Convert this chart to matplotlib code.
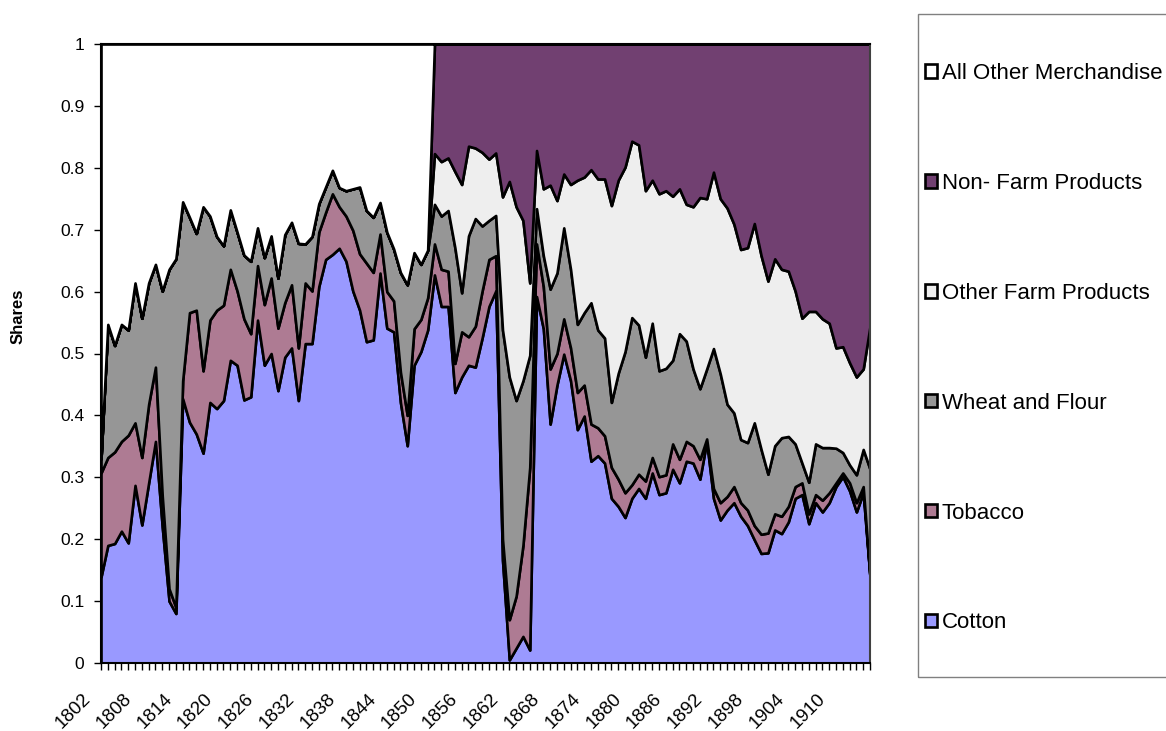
import numpy as np
import matplotlib.pyplot as plt
from matplotlib.patches import Rectangle
from matplotlib.transforms import ScaledTranslation

plt.rcParams['font.family'] = ['Liberation Sans', 'DejaVu Sans']

years = list(range(1802, 1916))

# export shares by commodity group, one value per year
cotton = [
    0.139, 0.190, 0.193, 0.213, 0.194, 0.287, 0.223, 0.291, 0.358, 0.220,
    0.100, 0.080, 0.427, 0.389, 0.370, 0.339, 0.421, 0.411, 0.424, 0.489,
    0.481, 0.425, 0.430, 0.554, 0.481, 0.500, 0.440, 0.494, 0.509, 0.424,
    0.516, 0.516, 0.608, 0.652, 0.660, 0.670, 0.649, 0.601, 0.570, 0.519,
    0.522, 0.630, 0.541, 0.535, 0.421, 0.351, 0.481, 0.503, 0.538, 0.627,
    0.576, 0.576, 0.437, 0.462, 0.481, 0.478, 0.525, 0.576, 0.601, 0.166,
    0.005, 0.024, 0.043, 0.021, 0.592, 0.540, 0.386, 0.449, 0.499, 0.456,
    0.377, 0.399, 0.326, 0.335, 0.323, 0.266, 0.253, 0.235, 0.266, 0.282,
    0.266, 0.307, 0.272, 0.275, 0.313, 0.291, 0.326, 0.323, 0.297, 0.358,
    0.266, 0.231, 0.247, 0.259, 0.237, 0.222, 0.199, 0.177, 0.178, 0.215,
    0.209, 0.228, 0.266, 0.272, 0.225, 0.259, 0.244, 0.259, 0.285, 0.301,
    0.278, 0.244, 0.275, 0.139,
]
tobacco = [
    0.168, 0.142, 0.148, 0.145, 0.174, 0.101, 0.109, 0.127, 0.120, 0.050,
    0.020, 0.010, 0.029, 0.177, 0.200, 0.133, 0.133, 0.159, 0.154, 0.147,
    0.120, 0.131, 0.102, 0.088, 0.098, 0.122, 0.101, 0.088, 0.102, 0.085,
    0.098, 0.085, 0.088, 0.076, 0.098, 0.067, 0.073, 0.098, 0.091, 0.127,
    0.109, 0.063, 0.059, 0.050, 0.049, 0.049, 0.059, 0.052, 0.052, 0.050,
    0.060, 0.057, 0.047, 0.073, 0.046, 0.066, 0.076, 0.076, 0.057, 0.034,
    0.065, 0.084, 0.147, 0.295, 0.085, 0.068, 0.089, 0.051, 0.057, 0.053,
    0.060, 0.050, 0.060, 0.045, 0.044, 0.050, 0.044, 0.040, 0.022, 0.023,
    0.028, 0.025, 0.029, 0.029, 0.041, 0.038, 0.032, 0.028, 0.032, 0.004,
    0.016, 0.028, 0.022, 0.026, 0.022, 0.025, 0.023, 0.031, 0.032, 0.026,
    0.028, 0.025, 0.019, 0.019, 0.016, 0.013, 0.019, 0.016, 0.006, 0.006,
    0.013, 0.015, 0.010, 0.000,
]
wheat_flour = [
    0.023, 0.215, 0.172, 0.189, 0.170, 0.226, 0.225, 0.196, 0.166, 0.331,
    0.516, 0.563, 0.289, 0.154, 0.124, 0.265, 0.168, 0.119, 0.096, 0.096,
    0.095, 0.103, 0.117, 0.061, 0.076, 0.068, 0.081, 0.110, 0.101, 0.169,
    0.063, 0.088, 0.046, 0.041, 0.038, 0.031, 0.041, 0.067, 0.108, 0.085,
    0.089, 0.051, 0.096, 0.084, 0.161, 0.211, 0.123, 0.089, 0.077, 0.064,
    0.086, 0.098, 0.187, 0.063, 0.163, 0.174, 0.105, 0.063, 0.065, 0.338,
    0.392, 0.316, 0.266, 0.181, 0.057, 0.050, 0.129, 0.130, 0.147, 0.127,
    0.110, 0.117, 0.196, 0.158, 0.158, 0.105, 0.171, 0.228, 0.270, 0.241,
    0.200, 0.217, 0.171, 0.172, 0.135, 0.203, 0.162, 0.124, 0.114, 0.113,
    0.226, 0.208, 0.149, 0.119, 0.102, 0.109, 0.166, 0.137, 0.095, 0.110,
    0.127, 0.113, 0.069, 0.032, 0.051, 0.082, 0.085, 0.073, 0.056, 0.033,
    0.029, 0.045, 0.060, 0.174,
]
# other farm / non-farm split only exists from 1851 on
other_farm = [0.0] * 49 + [
    0.082, 0.088, 0.085, 0.123, 0.175, 0.145, 0.114, 0.119, 0.099, 0.101,
    0.215, 0.316, 0.313, 0.259, 0.117, 0.094, 0.108, 0.168, 0.117, 0.087,
    0.137, 0.233, 0.219, 0.215, 0.244, 0.257, 0.318, 0.312, 0.298, 0.285,
    0.291, 0.269, 0.231, 0.286, 0.287, 0.265, 0.234, 0.221, 0.262, 0.309,
    0.275, 0.285, 0.283, 0.317, 0.305, 0.307, 0.315, 0.322, 0.313, 0.312,
    0.302, 0.272, 0.267, 0.247, 0.234, 0.276, 0.214, 0.208, 0.201, 0.162,
    0.171, 0.165, 0.158, 0.130, 0.231,
]
non_farm = [0.0] * 49 + [
    0.177, 0.190, 0.184, 0.206, 0.227, 0.165, 0.168, 0.175, 0.186, 0.176,
    0.247, 0.222, 0.263, 0.285, 0.386, 0.172, 0.234, 0.228, 0.253, 0.210,
    0.227, 0.220, 0.215, 0.203, 0.218, 0.218, 0.261, 0.220, 0.199, 0.157,
    0.163, 0.237, 0.220, 0.242, 0.237, 0.246, 0.234, 0.259, 0.263, 0.248,
    0.250, 0.207, 0.250, 0.265, 0.291, 0.332, 0.329, 0.290, 0.342, 0.383,
    0.347, 0.364, 0.367, 0.399, 0.443, 0.432, 0.432, 0.444, 0.451, 0.491,
    0.489, 0.515, 0.538, 0.525, 0.456,
]
all_other = [
    0.670, 0.453, 0.487, 0.453, 0.462, 0.386, 0.443, 0.386, 0.356, 0.399,
    0.364, 0.347, 0.255, 0.280, 0.306, 0.263, 0.278, 0.311, 0.326, 0.268,
    0.304, 0.341, 0.351, 0.297, 0.345, 0.310, 0.378, 0.308, 0.288, 0.322,
    0.323, 0.311, 0.258, 0.231, 0.204, 0.232, 0.237, 0.234, 0.231, 0.269,
    0.280, 0.256, 0.304, 0.331, 0.369, 0.389, 0.337, 0.356, 0.333,
] + [0.0] * 65

labels = ['Cotton', 'Tobacco', 'Wheat and Flour', 'Other Farm Products',
          'Non- Farm Products', 'All Other Merchandise']
colors = ['#9999ff', '#ae7b93', '#969696', '#eeeeee', '#714071', '#ffffff']

fig = plt.figure(figsize=(11.66, 7.31), dpi=100)
ax = fig.add_axes([101/1166, 1 - 663/731, 769/1166, 619/731])

polys = ax.stackplot(years, cotton, tobacco, wheat_flour, other_farm,
                     non_farm, all_other, colors=colors, labels=labels,
                     edgecolor='black', linewidth=1.9)

ax.set_xlim(1802, 1915)
ax.set_ylim(0, 1)

yt = np.arange(0, 1.01, 0.1)
ax.set_yticks(yt)
ax.set_yticklabels([f'{v:g}' for v in yt], fontsize=12.5)
ax.set_xticks(years)
ax.set_xticklabels([str(y) if (y - 1802) % 6 == 0 else '' for y in years],
                   rotation=45, ha='right', va='baseline',
                   rotation_mode='anchor', fontsize=13.5)
ax.tick_params(axis='both', direction='out', length=5, width=1, color='black')
ax.tick_params(axis='x', pad=21)
ax.tick_params(axis='y', pad=7)
# year labels sit a little left of their ticks
shift = ScaledTranslation(-0.10, 0, fig.dpi_scale_trans)
for lbl in ax.get_xticklabels():
    lbl.set_transform(lbl.get_transform() + shift)

ax.set_ylabel('Shares', fontsize=12, fontweight='bold')
ax.yaxis.set_label_coords(-0.0975, 0.56)

for side in ['left', 'bottom', 'top']:
    ax.spines[side].set_linewidth(1.5)
    ax.spines[side].set_color('black')
ax.spines['right'].set_linewidth(1.5)
ax.spines['right'].set_color('#404040')

# legend panel on the right, box runs off the figure edge
fig.patches.append(Rectangle((918/1166, 1 - 677/731), 300/1166, 663/731,
                             transform=fig.transFigure, fill=False,
                             edgecolor='#808080', linewidth=1, clip_on=False))
fig.legend(polys[::-1], labels[::-1], loc='upper left',
           bbox_to_anchor=(925/1166, 1 - 63/731), frameon=False,
           fontsize=16, borderpad=0, borderaxespad=0,
           handlelength=0.55, handleheight=0.55, handletextpad=0.2,
           labelspacing=4.0)

fig.savefig('out.png', dpi=100)
